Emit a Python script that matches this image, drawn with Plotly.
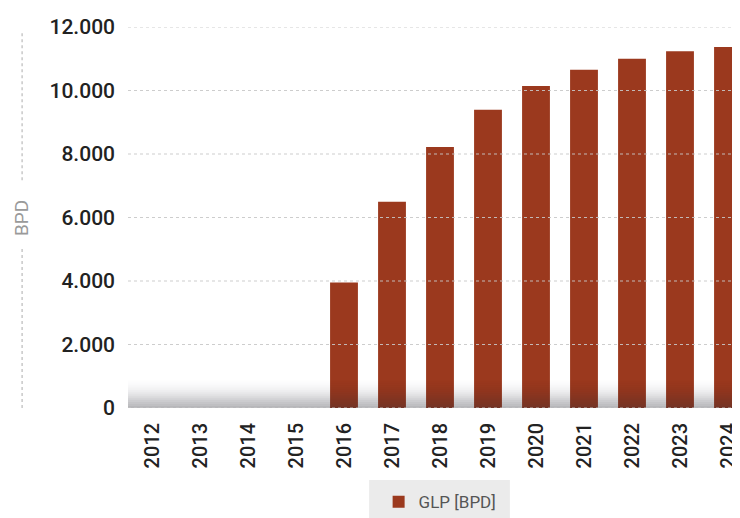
import plotly.graph_objects as go

years = ["2012", "2013", "2014", "2015", "2016", "2017", "2018", "2019",
         "2020", "2021", "2022", "2023", "2024"]
glp_bpd = [0, 0, 0, 0, 3950, 6500, 8220, 9390, 10140, 10650, 11000, 11240, 11370]
series_name = "GLP [BPD]"
y_ticks = [0, 2000, 4000, 6000, 8000, 10000, 12000]

FONT = "Roboto, Liberation Sans, sans-serif"
BAR = "#9b391e"

fig = go.Figure()
fig.add_trace(go.Bar(
    x=years, y=glp_bpd, name=series_name,
    marker=dict(color=BAR, line=dict(width=0)),
    width=0.58,
))

shapes = []
# bottom shading gradient (decorative)
n = 14
h = 900
for i in range(n):
    y1 = h * (i + 1) / n
    shapes.append(dict(type="rect", xref="paper", yref="y", x0=0, x1=1,
                       y0=0, y1=y1, fillcolor="rgba(60,60,70,%.3f)" % (0.055 * (1 - i / n)),
                       line=dict(width=0), layer="above"))
# gridlines drawn above bars
for t in y_ticks:
    shapes.append(dict(type="line", xref="paper", yref="y", x0=0, x1=1, y0=t, y1=t,
                       line=dict(color="rgba(200,200,200,0.9)", width=1, dash="dot"),
                       layer="above"))
# dotted vertical line of y-axis title
shapes.append(dict(type="line", xref="paper", yref="paper",
                   x0=-0.173, x1=-0.173, y0=0.0, y1=0.423,
                   line=dict(color="#c8c8c8", width=1.5, dash="dot")))
shapes.append(dict(type="line", xref="paper", yref="paper",
                   x0=-0.173, x1=-0.173, y0=0.598, y1=0.987,
                   line=dict(color="#c8c8c8", width=1.5, dash="dot")))
# legend background box
shapes.append(dict(type="rect", xref="paper", yref="paper",
                   x0=0.394, x1=0.624, y0=-0.189, y1=-0.30,
                   fillcolor="#ebebeb", line=dict(width=0), layer="below"))

fig.update_layout(
    template="none",
    width=732, height=510,
    margin=dict(l=120, r=0, t=19, b=110, autoexpand=False),
    paper_bgcolor="white", plot_bgcolor="white",
    separators=",.",
    font=dict(family=FONT, color="#222222"),
    showlegend=True,
    legend=dict(orientation="h", x=0.51, xanchor="center", y=-0.247, yanchor="middle",
                bgcolor="rgba(0,0,0,0)", font=dict(size=17, color="#555555", family=FONT)),
    xaxis=dict(type="category", range=[-0.5, 12.25], tickangle=-90, automargin=False,
               tickfont=dict(size=20, color="#222222", family=FONT, weight=500),
               showgrid=False, showline=False, ticks="", ticklabelstandoff=10),
    yaxis=dict(range=[0, 12000], tickvals=y_ticks, tickformat=",", automargin=False,
               tickfont=dict(size=21, color="#222222", family=FONT, weight=500),
               showgrid=False, zeroline=False, showline=False, ticks="",
               ticklabelstandoff=12),
    shapes=shapes,
    annotations=[dict(text="BPD", xref="paper", yref="paper", x=-0.173, y=0.499,
                      textangle=-90, showarrow=False, xanchor="center", yanchor="middle",
                      font=dict(size=19, color="#9a9a9a", family=FONT))],
)

fig.write_html("out.html")
